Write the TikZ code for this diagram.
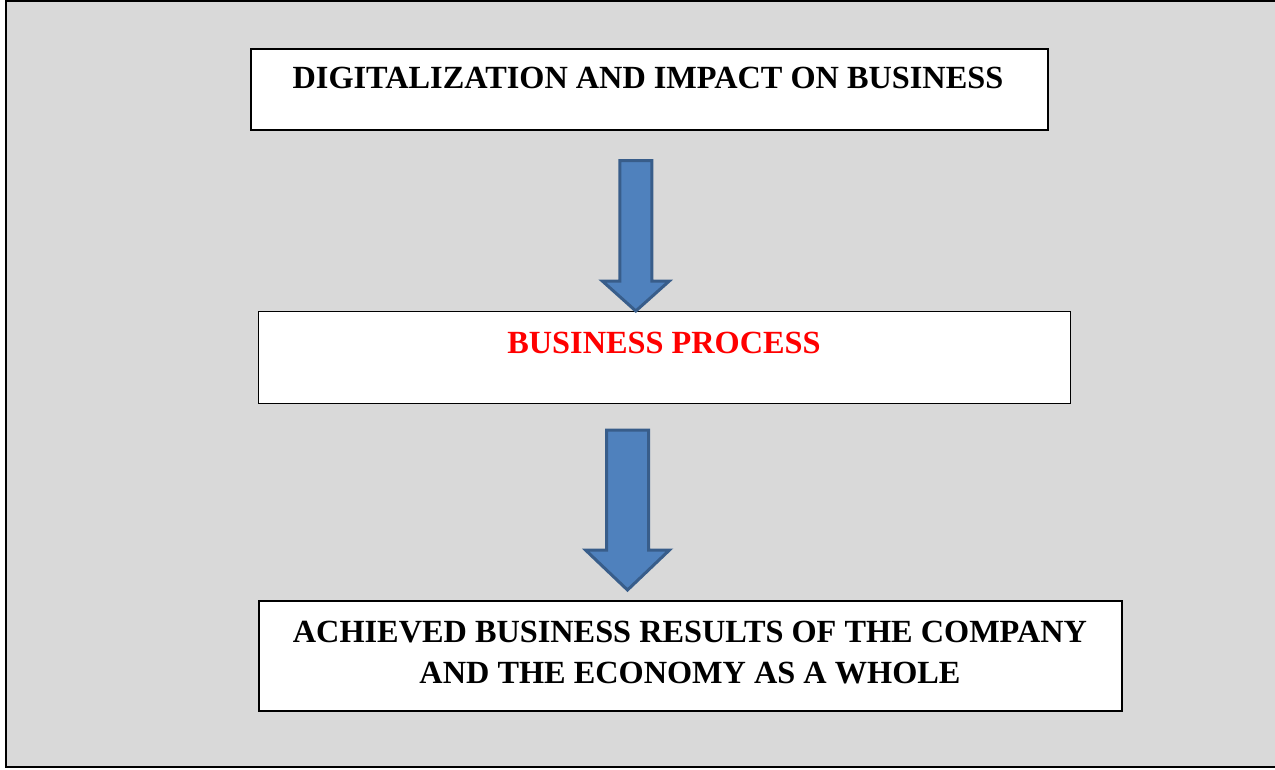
\documentclass[tikz,border=0pt]{standalone}
\usepackage{fontspec}
\setmainfont{Liberation Serif}
\usetikzlibrary{positioning}

\definecolor{pagegray}{HTML}{D9D9D9}
\definecolor{arrowfill}{HTML}{4F81BD}
\definecolor{arrowline}{HTML}{385D8A}

\tikzset{
    box/.style={draw=black, fill=white, line width=2pt, inner sep=0pt},
    boxtext/.style={anchor=base, font=\fontsize{32.3}{41}\selectfont\bfseries, align=center, inner sep=0pt},
    blockarrow/.style={draw=arrowline, fill=arrowfill, line width=3pt, line join=miter}
}

% block arrow: centre x, top y, shoulder y, tip y, shaft half width, head half width
\newcommand{\downblock}[6]{%
    \draw[blockarrow] (#1-#5,#2) -- (#1+#5,#2) -- (#1+#5,#3) -- (#1+#6,#3)
        -- (#1,#4) -- (#1-#6,#3) -- (#1-#5,#3) -- cycle;
}

\begin{document}
\begin{tikzpicture}[x=1pt, y=-1pt]
        \useasboundingbox (0,0) rectangle (1275,769);

        % Frame
        \fill[pagegray] (6,1) rectangle (1275,767);
        \draw[line width=2pt] (1275,1) -- (6,1) -- (6,767) -- (1275,767);

        % Boxes
        \node[box, minimum width=797.5, minimum height=81] (digit) at (649.25,89) {};
        \node[boxtext] (digittext) at (648,88) {DIGITALIZATION AND IMPACT ON BUSINESS};

        \node[box, line width=1.3pt, minimum width=812, minimum height=91.5] (process) at (664.5,357.5) {};
        \node[boxtext, text=red] (processtext) at (664,353) {BUSINESS PROCESS};

        \node[box, minimum width=862.5, minimum height=110] (results) at (690.5,656) {};
        \node[boxtext] (resultstext) at (690,683) {ACHIEVED BUSINESS RESULTS OF THE COMPANY\\AND THE ECONOMY AS A WHOLE};

        % Arrows
        \downblock{635.8}{160.5}{281}{311}{16}{33.5}
        \downblock{627.5}{430}{550}{590}{21}{42}
    \end{tikzpicture}
\end{document}
